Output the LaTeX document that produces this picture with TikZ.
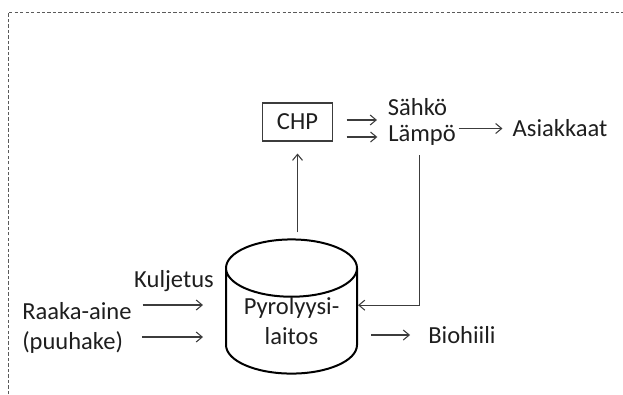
\documentclass[tikz,border=0pt]{standalone}
\usepackage{fontspec}
\setmainfont{Carlito}
\usetikzlibrary{shapes.geometric, arrows.meta, positioning, calc}
\definecolor{colText}{RGB}{30,30,30}
\definecolor{colLine}{RGB}{60,60,60}
\definecolor{colFrame}{RGB}{90,90,90}
\tikzset{
    txt/.style={inner sep=0pt, text=colText, font=\fontsize{18.4}{22.5}\selectfont},
    box/.style={rectangle, draw=colLine, line width=0.8pt, minimum width=52pt,
        minimum height=28.5pt, txt},
    tank/.style={cylinder, shape border rotate=90, draw=black, line width=1.5pt,
        aspect=0.6, minimum width=98.25pt, minimum height=92.25pt, align=center, txt},
    arrow/.style={-{Straight Barb[length=4.5pt, width=7.5pt]}, draw=colLine, line width=0.8pt},
    frame/.style={draw=colFrame, line width=0.75pt, dash pattern=on 2.5pt off 1.6pt}
}

\begin{document}
\begin{tikzpicture}[x=0.75pt, y=-0.75pt]
    \useasboundingbox (0,0) rectangle (623,394);
    \draw[frame] (8.5,394) -- (8.5,12) -- (623,12);

    \node[tank, anchor=shape center] (pyro) at (291.5,306.5) {Pyrolyysi-\\laitos};
    \node[box] (chp) at (297.5,122) {CHP};
    \node[txt] (sahko) at (417.5,107) {Sähkö};
    \node[txt] (lampo) at (422,135) {Lämpö};
    \node[txt] (asiak) at (560,128.5) {Asiakkaat};
    \node[txt] (kulj) at (174,281) {Kuljetus};
    \node[txt, anchor=west] (raaka) at (22,311) {Raaka-aine};
    \node[txt, anchor=west] (puu) at (22,342) {(puuhake)};
    \node[txt] (bio) at (462,335) {Biohiili};

    \draw[arrow, shorten <=4.5pt, shorten >=9pt] (chp.south |- pyro.north) -- (chp.south);
    \draw[arrow, shorten <=10.5pt, shorten >=8pt] ([yshift=1.5pt]chp.east) -- ([yshift=1.5pt]chp.east -| sahko.west);
    \draw[arrow, shorten <=10.5pt, shorten >=8pt] ([yshift=-11.25pt]chp.east) -- ([yshift=-11.25pt]chp.east -| lampo.west);
    \draw[arrow, shorten <=2pt, shorten >=7.5pt] (asiak.west -| lampo.east) -- (asiak.west);
    \draw[arrow, shorten <=7.5pt] ([xshift=-2pt]lampo.south) |- ([yshift=1pt]pyro.shape center -| pyro.east);
    \draw[arrow, shorten <=8pt, shorten >=16.5pt] ([yshift=4.5pt]raaka.east) -- ([yshift=4.5pt]raaka.east -| pyro.west);
    \draw[arrow, shorten <=14pt, shorten >=16.5pt] ([yshift=3.75pt]puu.east) -- ([yshift=3.75pt]puu.east -| pyro.west);
    \draw[arrow, shorten <=9.75pt, shorten >=13.5pt] (bio.west -| pyro.east) -- (bio.west);
\end{tikzpicture}
\end{document}
